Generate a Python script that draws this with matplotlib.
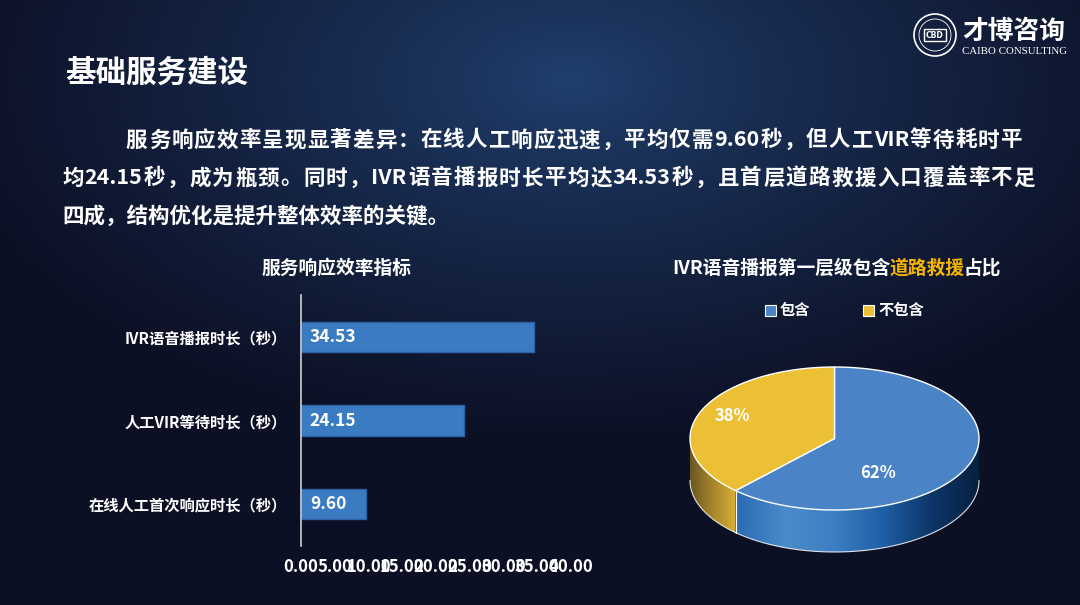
import re
import numpy as np
import matplotlib
matplotlib.use('Agg')
import matplotlib.pyplot as plt
from matplotlib.patches import Polygon, Rectangle, Circle
from matplotlib.colors import LinearSegmentedColormap, to_rgb

plt.rcParams['font.family'] = ['Noto Sans CJK SC', 'DejaVu Sans']

# Data
bar_categories = ['在线人工首次响应时长（秒）', '人工VIR等待时长（秒）', 'IVR语音播报时长（秒）']
bar_values = [9.60, 24.15, 34.53]
x_ticks = [0, 5, 10, 15, 20, 25, 30, 35, 40]
pie_labels = ['包含', '不包含']
pie_values = [62, 38]

title = '基础服务建设'
paragraph = ['服务响应效率呈现显著差异：在线人工响应迅速，平均仅需9.60秒，但人工VIR等待耗时平',
             '均24.15秒，成为瓶颈。同时，IVR语音播报时长平均达34.53秒，且首层道路救援入口覆盖率不足',
             '四成，结构优化是提升整体效率的关键。']

W, H = 1080, 605
BLUE = '#4a84c6'
YELLOW = '#ecc034'

fig = plt.figure(figsize=(W / 100, H / 100), dpi=100)
renderer = fig.canvas.get_renderer()

# background with a blue glow near the top
bg = fig.add_axes([0, 0, 1, 1])
yy, xx = np.mgrid[0:H, 0:W]
t = np.sqrt(((xx - 570) / 640.0) ** 2 + ((yy - 80) / 360.0) ** 2)
t = np.clip(t, 0, 1) ** 0.8
c0 = np.array(to_rgb('#21406f'))
c1 = np.array(to_rgb('#0c1025'))
img = c0[None, None, :] * (1 - t[..., None]) + c1[None, None, :] * t[..., None]
bg.imshow(img, extent=[0, W, H, 0], aspect='auto', zorder=0)
bg.set_xlim(0, W)
bg.set_ylim(H, 0)
bg.axis('off')


def advance(s, **kw):
    # width of a text run, measured between two X marks so blank sides count
    a = bg.text(0, 0, 'X' + s + 'X', **kw)
    b = bg.text(0, 0, 'XX', **kw)
    w = a.get_window_extent(renderer).width - b.get_window_extent(renderer).width
    a.remove()
    b.remove()
    return w


def justified_line(x0, x1, y, s, **kw):
    tokens = re.findall(r'[A-Za-z0-9.]+|.', s)
    widths = [advance(tok, **kw) for tok in tokens]
    gap = (x1 - x0 - sum(widths)) / max(len(tokens) - 1, 1)
    x = x0
    for tok, w in zip(tokens, widths):
        bg.text(x, y, tok, va='center', ha='left', **kw)
        x += w + gap


para_kw = dict(fontsize=15.5, fontweight='bold', color='white')

# title and paragraph
bg.text(65, 73, title, fontsize=22, fontweight='bold', color='white', va='center')
justified_line(126, 1022, 140, paragraph[0], **para_kw)
justified_line(62, 1035, 178, paragraph[1], **para_kw)
bg.text(62, 216, paragraph[2], va='center', **para_kw)

# logo
bg.add_patch(Circle((935, 35), 21, facecolor='none', edgecolor='white', lw=1.2, zorder=3))
bg.add_patch(Circle((935, 35), 16, facecolor='none', edgecolor='white', lw=0.6, zorder=3))
bg.add_patch(Rectangle((924, 29), 22, 12, facecolor='none', edgecolor='white', lw=1, zorder=3))
bg.text(935, 35.5, 'CBD', fontsize=5.5, fontweight='bold', color='white', ha='center', va='center',
        family='DejaVu Sans', zorder=4)
bg.text(1014, 31, '才博咨询', fontsize=18.5, fontweight='bold', color='white', ha='center', va='center')
bg.text(1014, 52, 'CAIBO CONSULTING', fontsize=7.8, color='white', ha='center', va='center',
        family='Liberation Serif')

# bar chart
bg.text(337, 268, '服务响应效率指标', fontsize=13.5, fontweight='bold', color='white',
        ha='center', va='center')
ax = fig.add_axes([301 / W, (H - 546) / H, 270 / W, 251 / H])
ax.set_facecolor('none')
ypos = np.arange(len(bar_values))
ax.barh(ypos, bar_values, height=0.36, color='#3b7bc1', edgecolor='#2c62a3', lw=1)
for i, v in enumerate(bar_values):
    ax.text(1.3, i, f'{v:.2f}', va='center', ha='left', color='white',
            fontsize=12.5, fontweight='bold')
ax.set_xlim(0, 40)
ax.set_ylim(-0.5, 2.5)
for s in ['top', 'right', 'bottom']:
    ax.spines[s].set_visible(False)
ax.spines['left'].set_color('#cfcfcf')
ax.spines['left'].set_linewidth(1.2)
ax.set_xticks(x_ticks)
ax.set_xticklabels([f'{x:.2f}' for x in x_ticks], fontsize=12, fontweight='bold', color='white')
ax.set_yticks(ypos)
ax.set_yticklabels(bar_categories, fontsize=11, fontweight='bold', color='white')
ax.tick_params(axis='x', length=0, pad=9)
ax.tick_params(axis='y', length=0, pad=10)

# pie chart (3d look) drawn in pixel coordinates
bg.text(890, 268, 'IVR语音播报第一层级包含', fontsize=13.5, fontweight='bold', color='white',
        ha='right', va='center')
bg.text(890, 268, '道路救援', fontsize=13.5, fontweight='bold', color='#f5b400',
        ha='left', va='center')
bg.text(964, 268, '占比', fontsize=13.5, fontweight='bold', color='white',
        ha='left', va='center')

# legend
for lx, lab, col in zip([770, 868], pie_labels, [BLUE, YELLOW]):
    bg.add_patch(Rectangle((lx - 5.5, 304.5), 11, 11, facecolor=col, edgecolor='white',
                           lw=0.8, zorder=3))
    bg.text(lx + 10, 310, lab, fontsize=11, fontweight='bold', color='white', va='center')

cx, cy, rx, ry, depth = 834.5, 438.5, 144.5, 71.5, 42


def arc(a1, a2, n=120):
    a = np.radians(np.linspace(a1, a2, n))
    return cx + rx * np.cos(a), cy - ry * np.sin(a)


side_cmaps = [
    LinearSegmentedColormap.from_list('bs', ['#2a6bb3', '#4a8bca', '#3d7fc2', '#1f5fa6',
                                             '#0c3668', '#07203f']),
    LinearSegmentedColormap.from_list('ys', ['#6a5622', '#a8862c', '#d8ae32']),
]
top_colors = [BLUE, YELLOW]

total = float(sum(pie_values))
start = 90.0
slices = []
for v in pie_values:
    end = start - 360.0 * v / total
    slices.append((end, start))
    start = end

# sides (front half only)
for (a_lo, a_hi), cmap in zip(slices, side_cmaps):
    for k in range(-2, 2):
        lo = max(a_lo, 180 + 360 * k)
        hi = min(a_hi, 360 + 360 * k)
        if hi <= lo:
            continue
        xs, ys = arc(lo, hi)
        px = np.concatenate([xs, xs[::-1]])
        py = np.concatenate([ys, ys[::-1] + depth])
        poly = Polygon(np.column_stack([px, py]), closed=True, facecolor='none',
                       edgecolor='none', zorder=2)
        bg.add_patch(poly)
        grad = np.linspace(0, 1, 256)[None, :]
        im = bg.imshow(grad, cmap=cmap, extent=[px.min(), px.max(), py.max(), py.min()],
                       aspect='auto', zorder=2)
        im.set_clip_path(poly)
        # bottom rim and vertical edges
        bg.plot(xs, ys + depth, color='white', lw=0.8, alpha=0.85, zorder=3)
        for ex in [lo, hi]:
            if 180 < ex % 360 < 360:
                exx, eyy = arc(ex, ex, 1)
                bg.plot([exx[0], exx[0]], [eyy[0], eyy[0] + depth], color='white',
                        lw=0.8, alpha=0.85, zorder=3)

# tops
for (a_lo, a_hi), col in zip(slices, top_colors):
    xs, ys = arc(a_lo, a_hi)
    pts = np.column_stack([np.concatenate([[cx], xs]), np.concatenate([[cy], ys])])
    bg.add_patch(Polygon(pts, closed=True, facecolor=col, edgecolor='white', lw=1, zorder=4))

label_pos = [(878, 473), (732, 416)]
for (lx, ly), v in zip(label_pos, pie_values):
    bg.text(lx, ly, f'{v}%', fontsize=12, fontweight='bold', color='white',
            ha='center', va='center', zorder=5)

fig.savefig('out.png', dpi=100)
